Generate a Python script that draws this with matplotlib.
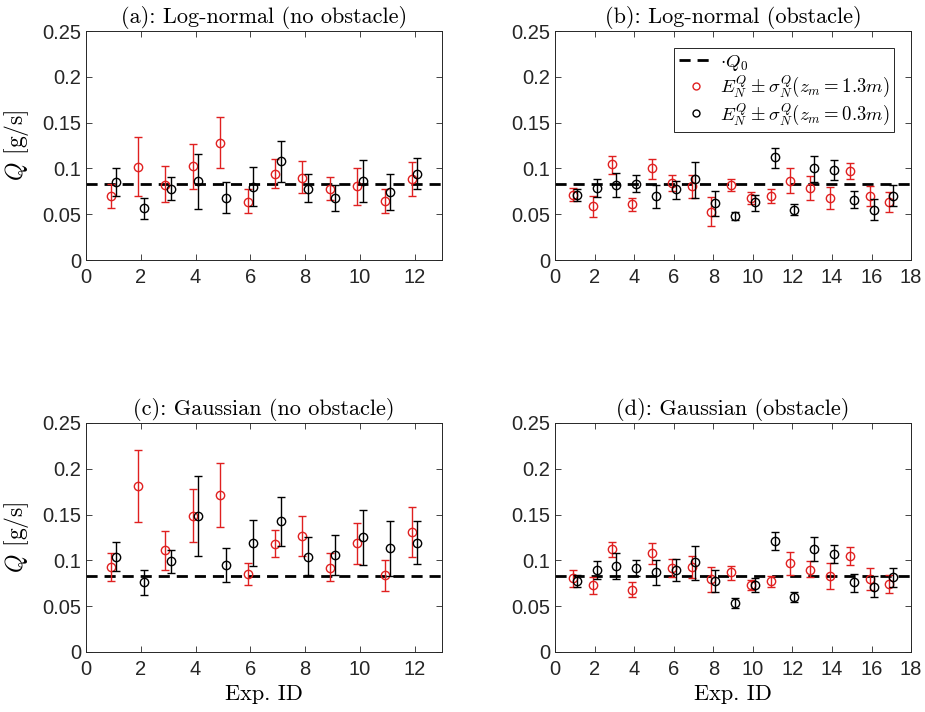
import numpy as np
import matplotlib
matplotlib.use("Agg")
import matplotlib.pyplot as plt
from matplotlib.lines import Line2D

plt.rcParams['mathtext.fontset'] = 'cm'
plt.rcParams['font.family'] = ['Liberation Sans', 'DejaVu Sans']

Q0 = 0.0833

titles = ['(a): Log-normal (no obstacle)', '(b): Log-normal (obstacle)',
          '(c): Gaussian (no obstacle)', '(d): Gaussian (obstacle)']

# (a) log-normal, no obstacle: 12 experiments
a_red = [0.070, 0.102, 0.082, 0.103, 0.128, 0.063, 0.094, 0.090, 0.078, 0.081, 0.064, 0.089]
a_red_lo = [0.057, 0.070, 0.063, 0.078, 0.100, 0.051, 0.079, 0.073, 0.065, 0.060, 0.051, 0.070]
a_red_hi = [0.083, 0.134, 0.103, 0.127, 0.156, 0.077, 0.110, 0.108, 0.091, 0.101, 0.077, 0.107]
a_blk = [0.085, 0.057, 0.078, 0.086, 0.068, 0.080, 0.108, 0.078, 0.068, 0.086, 0.074, 0.094]
a_blk_lo = [0.070, 0.045, 0.066, 0.056, 0.051, 0.059, 0.085, 0.063, 0.054, 0.063, 0.055, 0.077]
a_blk_hi = [0.100, 0.068, 0.091, 0.116, 0.085, 0.102, 0.130, 0.094, 0.082, 0.109, 0.094, 0.111]

# (b) log-normal, obstacle: 17 experiments
b_red = [0.071, 0.059, 0.105, 0.061, 0.100, 0.084, 0.081, 0.052, 0.082, 0.068, 0.070,
         0.086, 0.079, 0.068, 0.097, 0.070, 0.063]
b_red_lo = [0.064, 0.047, 0.094, 0.053, 0.089, 0.075, 0.068, 0.037, 0.075, 0.061, 0.062,
            0.073, 0.066, 0.056, 0.088, 0.059, 0.052]
b_red_hi = [0.079, 0.070, 0.114, 0.068, 0.110, 0.093, 0.093, 0.069, 0.089, 0.074, 0.077,
            0.100, 0.092, 0.080, 0.106, 0.081, 0.074]
b_blk = [0.071, 0.079, 0.082, 0.083, 0.070, 0.077, 0.088, 0.062, 0.048, 0.063, 0.112,
         0.055, 0.100, 0.098, 0.066, 0.055, 0.070]
b_blk_lo = [0.064, 0.069, 0.069, 0.074, 0.057, 0.067, 0.068, 0.048, 0.044, 0.054, 0.101,
            0.049, 0.085, 0.087, 0.057, 0.044, 0.059]
b_blk_hi = [0.078, 0.089, 0.095, 0.093, 0.082, 0.086, 0.107, 0.075, 0.052, 0.071, 0.122,
            0.061, 0.114, 0.109, 0.075, 0.067, 0.082]

# (c) gaussian, no obstacle
c_red = [0.093, 0.181, 0.111, 0.149, 0.171, 0.085, 0.118, 0.127, 0.092, 0.119, 0.084, 0.131]
c_red_lo = [0.078, 0.142, 0.089, 0.120, 0.136, 0.073, 0.104, 0.105, 0.077, 0.096, 0.067, 0.104]
c_red_hi = [0.108, 0.220, 0.132, 0.178, 0.206, 0.097, 0.133, 0.149, 0.108, 0.141, 0.100, 0.158]
c_blk = [0.104, 0.076, 0.099, 0.149, 0.095, 0.119, 0.143, 0.104, 0.106, 0.125, 0.113, 0.119]
c_blk_lo = [0.088, 0.062, 0.086, 0.105, 0.076, 0.094, 0.116, 0.084, 0.084, 0.095, 0.083, 0.096]
c_blk_hi = [0.120, 0.089, 0.111, 0.192, 0.114, 0.144, 0.169, 0.125, 0.128, 0.155, 0.143, 0.143]

# (d) gaussian, obstacle
d_red = [0.081, 0.073, 0.112, 0.068, 0.108, 0.092, 0.093, 0.080, 0.087, 0.073, 0.077,
         0.097, 0.090, 0.083, 0.105, 0.080, 0.074]
d_red_lo = [0.071, 0.063, 0.104, 0.060, 0.096, 0.082, 0.081, 0.065, 0.079, 0.068, 0.071,
            0.084, 0.082, 0.069, 0.095, 0.068, 0.064]
d_red_hi = [0.089, 0.082, 0.120, 0.076, 0.119, 0.101, 0.105, 0.093, 0.094, 0.079, 0.083,
            0.109, 0.099, 0.097, 0.115, 0.092, 0.084]
d_blk = [0.078, 0.090, 0.094, 0.092, 0.087, 0.090, 0.098, 0.077, 0.053, 0.073, 0.121,
         0.060, 0.112, 0.107, 0.076, 0.071, 0.082]
d_blk_lo = [0.071, 0.080, 0.080, 0.083, 0.073, 0.077, 0.079, 0.066, 0.048, 0.065, 0.111,
            0.055, 0.099, 0.097, 0.066, 0.060, 0.071]
d_blk_hi = [0.084, 0.099, 0.108, 0.100, 0.100, 0.102, 0.116, 0.089, 0.059, 0.081, 0.131,
            0.065, 0.126, 0.117, 0.085, 0.083, 0.092]

panels = [
    (a_red, a_red_lo, a_red_hi, a_blk, a_blk_lo, a_blk_hi, 13, [0, 2, 4, 6, 8, 10, 12]),
    (b_red, b_red_lo, b_red_hi, b_blk, b_blk_lo, b_blk_hi, 18, [0, 2, 4, 6, 8, 10, 12, 14, 16, 18]),
    (c_red, c_red_lo, c_red_hi, c_blk, c_blk_lo, c_blk_hi, 13, [0, 2, 4, 6, 8, 10, 12]),
    (d_red, d_red_lo, d_red_hi, d_blk, d_blk_lo, d_blk_hi, 18, [0, 2, 4, 6, 8, 10, 12, 14, 16, 18]),
]

yticks = [0, 0.05, 0.1, 0.15, 0.2, 0.25]
ytick_labels = ['0', '0.05', '0.1', '0.15', '0.2', '0.25']

RED = '#e02020'
AXC = '#262626'

fig = plt.figure(figsize=(9.25, 7.12), dpi=100)
W, H = 0.385, 0.3216
pos = [(0.093, 0.6348), (0.600, 0.6348), (0.093, 0.0843), (0.600, 0.0843)]

for k, (rc, rlo, rhi, bc, blo, bhi, xmax, xt) in enumerate(panels):
    ax = fig.add_axes([pos[k][0], pos[k][1], W, H])
    rc, rlo, rhi = np.array(rc), np.array(rlo), np.array(rhi)
    bc, blo, bhi = np.array(bc), np.array(blo), np.array(bhi)
    ids = np.arange(1, len(rc) + 1)

    ax.axhline(Q0, color='k', lw=2, dashes=(4, 2.5), zorder=1)
    ax.errorbar(ids - 0.1, rc, yerr=[rc - rlo, rhi - rc], fmt='o', color=RED,
                mfc='none', ms=6, mew=1, elinewidth=1, capsize=3, capthick=1, zorder=2)
    ax.errorbar(ids + 0.1, bc, yerr=[bc - blo, bhi - bc], fmt='o', color='k',
                mfc='none', ms=6, mew=1, elinewidth=1, capsize=3, capthick=1, zorder=3)

    ax.set_xlim(0, xmax)
    ax.set_ylim(0, 0.25)
    ax.set_xticks(xt)
    ax.set_yticks(yticks)
    ax.set_yticklabels(ytick_labels)
    ax.tick_params(direction='in', top=True, right=True, labelsize=14.5,
                   colors=AXC, length=4, width=0.6)
    ax.tick_params(axis='x', pad=6)
    for s in ax.spines.values():
        s.set_color(AXC)
        s.set_linewidth(0.7)

    ax.set_title(titles[k], family='cmr10', fontsize=16, pad=6)
    if k % 2 == 0:
        ax.set_ylabel(r'$Q$ [g/s]', family='cmr10', fontsize=17, labelpad=8)
    if k >= 2:
        ax.set_xlabel('Exp. ID', family='cmr10', fontsize=16)

    if k == 1:
        handles = [
            Line2D([], [], color='k', lw=2, dashes=(4, 2.5)),
            Line2D([], [], color=RED, marker='o', ls='none', mfc='none', ms=5),
            Line2D([], [], color='k', marker='o', ls='none', mfc='none', ms=5),
        ]
        labels = [r'$\cdot Q_0$',
                  r'$E_N^Q \pm \sigma_N^Q(z_m = 1.3m)$',
                  r'$E_N^Q \pm \sigma_N^Q(z_m = 0.3m)$']
        leg = ax.legend(handles, labels, loc='upper right', fontsize=13.5,
                        fancybox=False, edgecolor=AXC, framealpha=1,
                        handlelength=1.8, handletextpad=0.4, labelspacing=0.05,
                        borderpad=0.25, borderaxespad=0.9)
        leg.get_frame().set_linewidth(0.7)

fig.savefig('out.png', dpi=100)
